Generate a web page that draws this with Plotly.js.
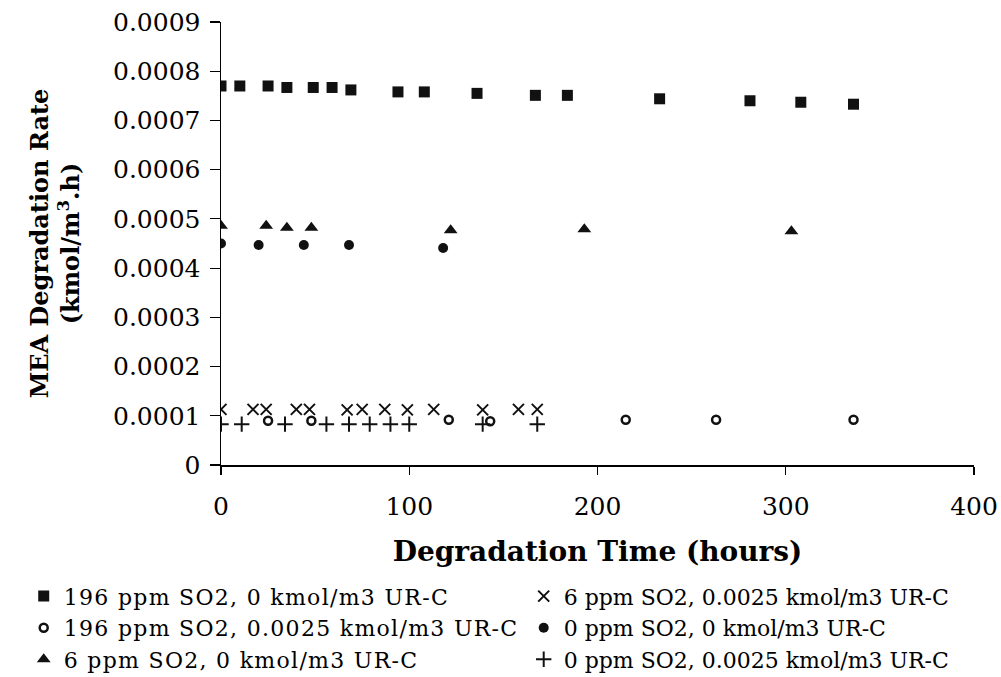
<!DOCTYPE html>
<html>
<head>
<meta charset="utf-8">
<script src="https://cdn.plot.ly/plotly-3.0.1.min.js"></script>
<style>
  html, body { margin: 0; padding: 0; background: #fff; }
  #chart { width: 1001px; height: 677px; }
  .legendtext { letter-spacing: 1.3px; }
</style>
</head>
<body>
<div id="chart"></div>
<script>
// Series: 196 ppm SO2, 0 kmol/m3 UR-C (filled squares)
const timeS196U0 = [0, 10, 25, 35, 49, 59, 69, 94, 108, 136, 167, 184, 233, 281, 308, 336];
const rateS196U0 = [0.000770, 0.000770, 0.000770, 0.000767, 0.000767, 0.000767, 0.000762, 0.000758,
                    0.000758, 0.000755, 0.000751, 0.000751, 0.000744, 0.000740, 0.000737, 0.000733];

// Series: 6 ppm SO2, 0.0025 kmol/m3 UR-C (x)
const timeS6U25 = [0, 17, 24, 40, 47, 67, 75, 87, 99, 113, 139, 158, 168];
const rateS6U25 = [0.000113, 0.000113, 0.000113, 0.000113, 0.000113, 0.000112, 0.000113, 0.000113,
                   0.000112, 0.000113, 0.000112, 0.000113, 0.000113];

// Series: 196 ppm SO2, 0.0025 kmol/m3 UR-C (open circles)
const timeS196U25 = [25, 48, 121, 143, 215, 263, 336];
const rateS196U25 = [0.000090, 0.000090, 0.000092, 0.000089, 0.000092, 0.000092, 0.000092];

// Series: 0 ppm SO2, 0 kmol/m3 UR-C (filled circles)
const timeS0U0 = [0, 20, 44, 68, 118];
const rateS0U0 = [0.000450, 0.000447, 0.000447, 0.000447, 0.000441];

// Series: 6 ppm SO2, 0 kmol/m3 UR-C (triangles)
const timeS6U0 = [0, 24, 35, 48, 122, 193, 303];
const rateS6U0 = [0.000486, 0.000486, 0.000482, 0.000482, 0.000477, 0.000479, 0.000475];

// Series: 0 ppm SO2, 0.0025 kmol/m3 UR-C (plus)
const timeS0U25 = [0, 11, 34, 56, 68, 79, 90, 100, 139, 168];
const rateS0U25 = [0.000083, 0.000083, 0.000083, 0.000083, 0.000083, 0.000083, 0.000083, 0.000083,
                   0.000083, 0.000083];

const seriesNames = [
  '196 ppm SO2, 0 kmol/m3 UR-C',
  '6 ppm SO2, 0.0025 kmol/m3 UR-C',
  '196 ppm SO2, 0.0025 kmol/m3 UR-C',
  '0 ppm SO2, 0 kmol/m3 UR-C',
  '6 ppm SO2, 0 kmol/m3 UR-C',
  '0 ppm SO2, 0.0025 kmol/m3 UR-C'
];

const yTickVals = [0, 0.0001, 0.0002, 0.0003, 0.0004, 0.0005, 0.0006, 0.0007, 0.0008, 0.0009];
const yTickText = ['0', '0.0001', '0.0002', '0.0003', '0.0004', '0.0005', '0.0006', '0.0007', '0.0008', '0.0009'];
const xTickVals = [0, 100, 200, 300, 400];

const black = '#111111';

const traces = [
  { x: timeS196U0, y: rateS196U0, name: seriesNames[0], legend: 'legend', legendrank: 1,
    type: 'scatter', mode: 'markers',
    marker: { symbol: 'square', size: 11, color: black } },
  { x: timeS6U25, y: rateS6U25, name: seriesNames[1], legend: 'legend2', legendrank: 1,
    type: 'scatter', mode: 'markers',
    marker: { symbol: 'x-thin-open', size: 11, color: black, line: { color: black, width: 2 } } },
  { x: timeS196U25, y: rateS196U25, name: seriesNames[2], legend: 'legend', legendrank: 2,
    type: 'scatter', mode: 'markers',
    marker: { symbol: 'circle-open', size: 8, color: black, line: { color: black, width: 2.5 } } },
  { x: timeS0U0, y: rateS0U0, name: seriesNames[3], legend: 'legend2', legendrank: 2,
    type: 'scatter', mode: 'markers',
    marker: { symbol: 'circle', size: 10, color: black } },
  { x: timeS6U0, y: rateS6U0, name: seriesNames[4], legend: 'legend', legendrank: 3,
    type: 'scatter', mode: 'markers',
    marker: { symbol: 'triangle-up', size: 12, color: black } },
  { x: timeS0U25, y: rateS0U25, name: seriesNames[5], legend: 'legend2', legendrank: 3,
    type: 'scatter', mode: 'markers',
    marker: { symbol: 'cross-thin-open', size: 11, color: black, line: { color: black, width: 2 } } }
];

const serif = 'DejaVu Serif, Liberation Serif, serif';
const legendFont = { family: serif, size: 22, color: '#000000' };

const layout = {
  width: 1001,
  height: 677,
  paper_bgcolor: '#ffffff',
  plot_bgcolor: '#ffffff',
  margin: { l: 221, r: 27, t: 22, b: 212, autoexpand: false },
  font: { family: serif, color: '#000000', size: 24 },
  showlegend: true,
  xaxis: {
    range: [0, 400],
    tickvals: xTickVals,
    showgrid: false,
    zeroline: false,
    showline: true,
    linecolor: '#000000',
    linewidth: 1.5,
    ticks: 'outside',
    ticklen: 8,
    tickwidth: 1.2,
    tickcolor: '#000000',
    ticklabelstandoff: 10,
    tickfont: { family: serif, size: 25, color: '#000000' },
    title: { text: '<b>Degradation Time (hours)</b>', font: { family: serif, size: 28, color: '#000000' }, standoff: 22 }
  },
  yaxis: {
    range: [0, 0.0009],
    tickvals: yTickVals,
    ticktext: yTickText,
    showgrid: false,
    zeroline: false,
    showline: true,
    linecolor: '#000000',
    linewidth: 1.5,
    ticks: 'outside',
    ticklen: 10,
    tickwidth: 1.2,
    tickcolor: '#000000',
    ticklabelstandoff: 4,
    tickfont: { family: serif, size: 25, color: '#000000' },
    title: { text: '<b>MEA Degradation Rate<br>(kmol/m<sup>3</sup>.h)</b>', font: { family: serif, size: 24, color: '#000000' }, standoff: 26 }
  },
  legend: {
    orientation: 'v',
    x: -0.262,
    xanchor: 'left',
    y: -0.249,
    yanchor: 'top',
    font: legendFont,
    bgcolor: 'rgba(0,0,0,0)',
    borderwidth: 0,
    itemsizing: 'trace',
    traceorder: 'normal'
  },
  legend2: {
    orientation: 'v',
    x: 0.402,
    xanchor: 'left',
    y: -0.249,
    yanchor: 'top',
    font: legendFont,
    bgcolor: 'rgba(0,0,0,0)',
    borderwidth: 0,
    itemsizing: 'trace',
    traceorder: 'normal'
  }
};

Plotly.newPlot('chart', traces, layout, { displayModeBar: false, staticPlot: true });
</script>
</body>
</html>
